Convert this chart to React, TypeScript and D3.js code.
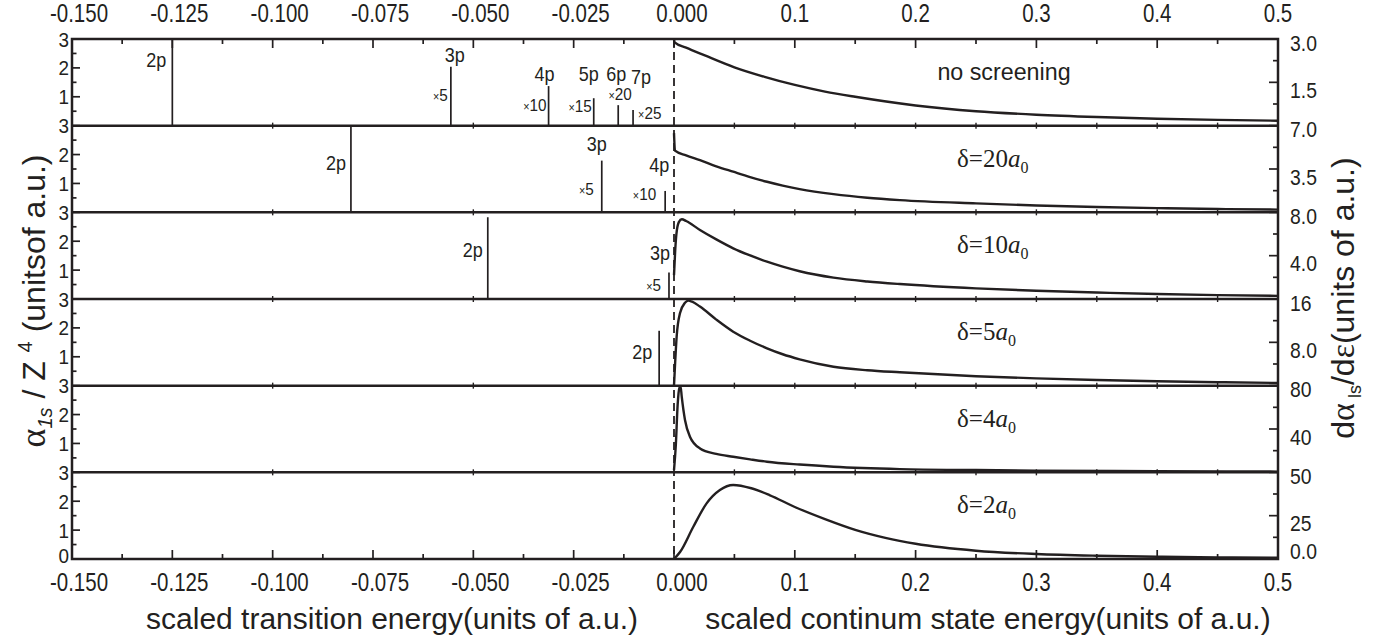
import React from "react";
import * as d3 from "d3";

// ---------- axis ticks ----------
const X_NEG_TICKS = [-0.15, -0.125, -0.1, -0.075, -0.05, -0.025, 0];
const X_NEG_LABELS = ["-0.150", "-0.125", "-0.100", "-0.075", "-0.050", "-0.025", "0.000"];
const X_NEG_MINOR = [-0.1375, -0.1125, -0.0875, -0.0625, -0.0375, -0.0125];
const X_POS_TICKS = [0.1, 0.2, 0.3, 0.4, 0.5];
const X_POS_LABELS = ["0.1", "0.2", "0.3", "0.4", "0.5"];
const X_POS_MINOR = [0.05, 0.15, 0.25, 0.35, 0.45];
const X_INNER_TICKS = [-0.1, -0.05, 0.05, 0.1, 0.15, 0.2, 0.25, 0.3, 0.35, 0.4, 0.45];

const LEFT_Y_TICKS = [1, 2, 3];
const LEFT_Y_LABELS = ["1", "2", "3"];
const LEFT_Y_MINOR = [0.5, 1.5, 2.5];

// ---------- panels ----------
const SCREENING = ["none", "20", "10", "5", "4", "2"];
const RIGHT_MAX = [3.0, 7.0, 8.0, 16, 80, 50];
const RIGHT_TICK_VALUES = [[1.5, 3.0], [3.5, 7.0], [4.0, 8.0], [8, 16], [40, 80], [0, 25, 50]];
const RIGHT_TICK_LABELS = [["1.5", "3.0"], ["3.5", "7.0"], ["4.0", "8.0"], ["8.0", "16"], ["40", "80"], ["0.0", "25", "50"]];

// ---------- continuum curves dα/dε ----------
const EPS_1 = [0, 0.0005, 0.01, 0.025, 0.05, 0.075, 0.1, 0.125, 0.15, 0.2, 0.25, 0.3, 0.35, 0.4, 0.45, 0.5];
const DA_1 = [3.0, 2.88, 2.7, 2.44, 2.02, 1.69, 1.41, 1.18, 1.0, 0.7, 0.5, 0.38, 0.3, 0.24, 0.2, 0.17];

const EPS_2 = [0, 0.0008, 0.01, 0.0215, 0.035, 0.049, 0.063, 0.077, 0.09, 0.104, 0.132, 0.16, 0.187, 0.25, 0.3, 0.35, 0.4, 0.45, 0.5];
const DA_2 = [6.4, 4.98, 4.6, 4.22, 3.72, 3.28, 2.85, 2.47, 2.16, 1.88, 1.47, 1.18, 0.99, 0.72, 0.55, 0.43, 0.34, 0.27, 0.22];

const EPS_3 = [0, 0.001, 0.002, 0.004, 0.0065, 0.01, 0.0215, 0.035, 0.049, 0.063, 0.077, 0.09, 0.104, 0.132, 0.16, 0.187, 0.25, 0.3, 0.35, 0.4, 0.45, 0.5];
const DA_3 = [2.2, 4.5, 6.0, 7.1, 7.36, 7.2, 6.37, 5.5, 4.68, 4.02, 3.44, 2.98, 2.56, 1.97, 1.62, 1.38, 0.98, 0.76, 0.6, 0.46, 0.36, 0.29];

const EPS_4 = [0, 0.001, 0.0022, 0.005, 0.0091, 0.0118, 0.015, 0.0215, 0.035, 0.049, 0.063, 0.077, 0.09, 0.104, 0.132, 0.16, 0.187, 0.25, 0.3, 0.35, 0.4, 0.45, 0.5];
const DA_4 = [0, 4.5, 9.05, 13.4, 15.3, 15.7, 15.5, 14.6, 12.2, 9.97, 8.3, 6.9, 5.8, 4.87, 3.5, 2.85, 2.47, 1.75, 1.35, 1.05, 0.82, 0.64, 0.5];

const EPS_5 = [0, 0.0015, 0.003, 0.0045, 0.0055, 0.0064, 0.0091, 0.0132, 0.0215, 0.035, 0.049, 0.063, 0.077, 0.104, 0.132, 0.187, 0.25, 0.3, 0.4, 0.5];
const DA_5 = [2, 25, 62, 78, 79, 69.8, 48.3, 32.9, 22.1, 17.0, 14.4, 12.0, 9.8, 7.2, 5.2, 3.0, 2.1, 1.6, 1.0, 0.7];

const EPS_6 = [0, 0.005, 0.016, 0.027, 0.038, 0.049, 0.064, 0.079, 0.1, 0.125, 0.15, 0.175, 0.2, 0.25, 0.3, 0.35, 0.4, 0.45, 0.5];
const DA_6 = [0, 4, 18.6, 32.1, 39.8, 42.7, 40.8, 36.9, 30, 23, 16.8, 12.2, 8.8, 4.8, 2.9, 1.9, 1.3, 0.9, 0.7];

const CURVE_EPS = [EPS_1, EPS_2, EPS_3, EPS_4, EPS_5, EPS_6];
const CURVE_DA = [DA_1, DA_2, DA_3, DA_4, DA_5, DA_6];

// ---------- discrete transitions (α/Z^4 contributions) ----------
const LINE_E_1 = [-0.125, -0.0556, -0.03125, -0.02, -0.0139, -0.0102];
const LINE_H_1 = [3, 2.04, 1.37, 0.95, 0.71, 0.54];
const LINE_S_1 = ["2p", "3p", "4p", "5p", "6p", "7p"];
const LINE_M_1 = ["", "5", "10", "15", "20", "25"];

const LINE_E_2 = [-0.0805, -0.018, -0.0022];
const LINE_H_2 = [3, 1.79, 0.74];
const LINE_S_2 = ["2p", "3p", "4p"];
const LINE_M_2 = ["", "5", "10"];

const LINE_E_3 = [-0.0464, -0.00125];
const LINE_H_3 = [2.83, 0.92];
const LINE_S_3 = ["2p", "3p"];
const LINE_M_3 = ["", "5"];

const LINE_E_4 = [-0.0037];
const LINE_H_4 = [1.9];
const LINE_S_4 = ["2p"];
const LINE_M_4 = [""];

const LINE_E = [LINE_E_1, LINE_E_2, LINE_E_3, LINE_E_4, [], []];
const LINE_H = [LINE_H_1, LINE_H_2, LINE_H_3, LINE_H_4, [], []];
const LINE_S = [LINE_S_1, LINE_S_2, LINE_S_3, LINE_S_4, [], []];
const LINE_M = [LINE_M_1, LINE_M_2, LINE_M_3, LINE_M_4, [], []];

// label layout: [dx from line, baseline offset from panel top, anchor]
type Lay = [number, number, string];
const STATE_LAYOUT: Lay[][] = [
  [[-6, 28, "end"], [4, 23, "middle"], [-4, 42, "middle"], [-5, 42, "middle"], [-2, 42, "middle"], [8, 45, "middle"]],
  [[-5, 44, "end"], [-5, 25, "middle"], [4, 46, "end"]],
  [[-5, 45, "end"], [1, 48, "end"]],
  [[-7, 60, "end"]],
];
const MULT_LAYOUT: Lay[][] = [
  [[0, 0, "end"], [-3, 62, "end"], [-2, 72, "end"], [-2, 73, "end"], [2, 61, "middle"], [5, 80, "start"]],
  [[0, 0, "end"], [-8, 69, "end"], [-9, 74, "end"]],
  [[0, 0, "end"], [-8, 79, "end"]],
  [[0, 0, "end"]],
];

const W = 1378;
const H = 638;
const X0 = 72, XM = 674, X1 = 1278;
const Y0 = 39, Y1 = 559;
const NP = 6;
const PH = (Y1 - Y0) / NP;
const INK = "#231f20";
const SANS = "'Liberation Sans', Arial, Helvetica, sans-serif";
const SERIF = "'Liberation Serif', 'Times New Roman', serif";

export default function App() {
  const x = d3.scaleLinear().domain([-0.15, 0, 0.5]).range([X0, XM, X1]);
  const panelTop = (i: number) => Y0 + i * PH;
  const yLeft = (i: number) => d3.scaleLinear().domain([0, 3]).range([panelTop(i) + PH, panelTop(i)]);
  const yRight = (i: number) => d3.scaleLinear().domain([0, RIGHT_MAX[i]]).range([panelTop(i) + PH, panelTop(i)]);

  const els: React.ReactNode[] = [];

  const ctext = (key: string, tx: number, ty: number, s: React.ReactNode, size: number, sx: number, anchor: string, family = SANS) => (
    <text key={key} transform={`translate(${tx},${ty}) scale(${sx},1)`} textAnchor={anchor} fontSize={size} fontFamily={family} fill={INK}>
      {s}
    </text>
  );

  for (let i = 0; i < NP; i++) {
    const yl = yLeft(i);
    const yr = yRight(i);
    const top = panelTop(i);

    // curve
    const pts: [number, number][] = CURVE_EPS[i].map((e, k) => [e, CURVE_DA[i][k]]);
    const line = d3.line<[number, number]>().x((d) => x(d[0])).y((d) => yr(d[1])).curve(d3.curveMonotoneX);
    els.push(<path key={`c${i}`} d={line(pts) || ""} fill="none" stroke={INK} strokeWidth={2.4} strokeLinejoin="round" />);

    // discrete lines
    LINE_E[i].forEach((e, k) => {
      const xx = x(e);
      const h = Math.min(LINE_H[i][k], 3);
      els.push(<line key={`l${i}-${k}`} x1={xx} x2={xx} y1={yl(0)} y2={yl(h)} stroke={INK} strokeWidth={1.7} />);
      const sl = STATE_LAYOUT[i][k];
      els.push(ctext(`s${i}-${k}`, xx + sl[0], top + sl[1], LINE_S[i][k], 20, 0.9, sl[2]));
      const m = LINE_M[i][k];
      if (m) {
        const ml = MULT_LAYOUT[i][k];
        els.push(
          ctext(
            `m${i}-${k}`,
            xx + ml[0],
            top + ml[1],
            <>
              <tspan fontSize={12}>×</tspan>
              <tspan>{m}</tspan>
            </>,
            17,
            0.9,
            ml[2]
          )
        );
      }
    });

    // left ticks
    LEFT_Y_TICKS.forEach((v, k) => {
      els.push(<line key={`lyt${i}-${k}`} x1={X0} x2={X0 + 8} y1={yl(v)} y2={yl(v)} stroke={INK} strokeWidth={1.7} />);
      els.push(ctext(`lyl${i}-${k}`, X0 - 3, yl(v) + 7.5, LEFT_Y_LABELS[k], 21, 0.9, "end"));
    });
    LEFT_Y_MINOR.forEach((v, k) => {
      els.push(<line key={`lym${i}-${k}`} x1={X0} x2={X0 + 4.5} y1={yl(v)} y2={yl(v)} stroke={INK} strokeWidth={1.7} />);
    });
    if (i === NP - 1) {
      els.push(ctext(`lyl0`, X0 - 3, yl(0) + 4, "0", 21, 0.9, "end"));
    }

    // right ticks
    const rmax = RIGHT_MAX[i];
    [rmax / 4, (3 * rmax) / 4].forEach((v, k) => {
      els.push(<line key={`rym${i}-${k}`} x1={X1} x2={X1 - 5} y1={yr(v)} y2={yr(v)} stroke={INK} strokeWidth={1.7} />);
    });
    RIGHT_TICK_VALUES[i].forEach((v, k) => {
      els.push(<line key={`ryt${i}-${k}`} x1={X1} x2={X1 - 9} y1={yr(v)} y2={yr(v)} stroke={INK} strokeWidth={1.7} />);
      const off = v === 0 ? -8 : v === rmax ? 4 : 8;
      els.push(ctext(`ryl${i}-${k}`, X1 + 12, yr(v) + off + 7.5, RIGHT_TICK_LABELS[i][k], 22, 0.88, "start"));
    });

    // panel annotation
    if (i === 0) {
      els.push(ctext(`pt${i}`, 1004, top + 41, "no screening", 24, 0.97, "middle"));
    } else {
      els.push(
        <text key={`pt${i}`} x={957} y={top + 41} fontSize={25} fontFamily={SERIF} fill={INK}>
          δ={SCREENING[i]}
          <tspan fontStyle="italic">a</tspan>
          <tspan fontSize={16} dy={6}>0</tspan>
        </text>
      );
    }

    // separators
    if (i > 0) {
      els.push(<line key={`sep${i}`} x1={X0} x2={X1} y1={top} y2={top} stroke={INK} strokeWidth={2.5} />);
      X_INNER_TICKS.forEach((t, k) => {
        els.push(<line key={`it${i}-${k}`} x1={x(t)} x2={x(t)} y1={top - 3} y2={top + 3} stroke={INK} strokeWidth={1.4} />);
      });
    }
  }

  // x axes, top and bottom
  const allMajor = [...X_NEG_TICKS, ...X_POS_TICKS];
  const allMinor = [...X_NEG_MINOR, ...X_POS_MINOR];
  allMajor.forEach((t, k) => {
    els.push(<line key={`tM${k}`} x1={x(t)} x2={x(t)} y1={Y0} y2={Y0 + 9} stroke={INK} strokeWidth={1.7} />);
    els.push(<line key={`bM${k}`} x1={x(t)} x2={x(t)} y1={Y1} y2={Y1 - 9} stroke={INK} strokeWidth={1.7} />);
  });
  allMinor.forEach((t, k) => {
    els.push(<line key={`tm${k}`} x1={x(t)} x2={x(t)} y1={Y0} y2={Y0 + 5} stroke={INK} strokeWidth={1.7} />);
    els.push(<line key={`bm${k}`} x1={x(t)} x2={x(t)} y1={Y1} y2={Y1 - 5} stroke={INK} strokeWidth={1.7} />);
  });
  X_NEG_TICKS.forEach((t, k) => {
    const dx = t === 0 ? 8 : 7;
    els.push(ctext(`tl${k}`, x(t) + dx, 22, X_NEG_LABELS[k], 25, 0.82, "middle"));
    els.push(ctext(`bl${k}`, x(t) + dx, 591, X_NEG_LABELS[k], 25, 0.82, "middle"));
  });
  X_POS_TICKS.forEach((t, k) => {
    els.push(ctext(`tp${k}`, x(t), 22, X_POS_LABELS[k], 25, 0.82, "middle"));
    els.push(ctext(`bp${k}`, x(t), 591, X_POS_LABELS[k], 25, 0.82, "middle"));
  });

  return (
    <svg width={W} height={H} style={{ position: "absolute", left: 0, top: 0, background: "#fff" }}>
      <rect x={0} y={0} width={W} height={H} fill="#fff" />
      {els}
      {/* threshold dashed line */}
      <line x1={x(0)} x2={x(0)} y1={Y0} y2={Y1} stroke={INK} strokeWidth={1.8} strokeDasharray="8,5" />
      {/* frame */}
      <rect x={X0} y={Y0} width={X1 - X0} height={Y1 - Y0} fill="none" stroke={INK} strokeWidth={2.5} />
      {/* axis titles */}
      {ctext("xt1", 392, 629, "scaled transition energy(units of a.u.)", 30, 1, "middle")}
      {ctext("xt2", 988, 629, "scaled continum state energy(units of a.u.)", 30, 1, "middle")}
      <text transform="translate(45,301) rotate(-90)" textAnchor="middle" fontSize={32} fontFamily={SANS} fill={INK}>
        <tspan fontFamily={SERIF} fontSize={36}>α</tspan>
        <tspan fontSize={20} fontStyle="italic" dy={7}>1s</tspan>
        <tspan dy={-7}> / Z </tspan>
        <tspan fontSize={20} dy={-13}>4</tspan>
        <tspan dy={13}> (unitsof a.u.)</tspan>
      </text>
      <text transform="translate(1354,298) rotate(-90)" textAnchor="middle" fontSize={32} fontFamily={SANS} fill={INK}>
        d<tspan fontFamily={SERIF} fontSize={34}>α</tspan>
        <tspan fontSize={18} dy={7}> ls</tspan>
        <tspan dy={-7}>/d</tspan>
        <tspan fontFamily={SERIF} fontSize={34}>ε</tspan>(units of a.u.)
      </text>
    </svg>
  );
}
